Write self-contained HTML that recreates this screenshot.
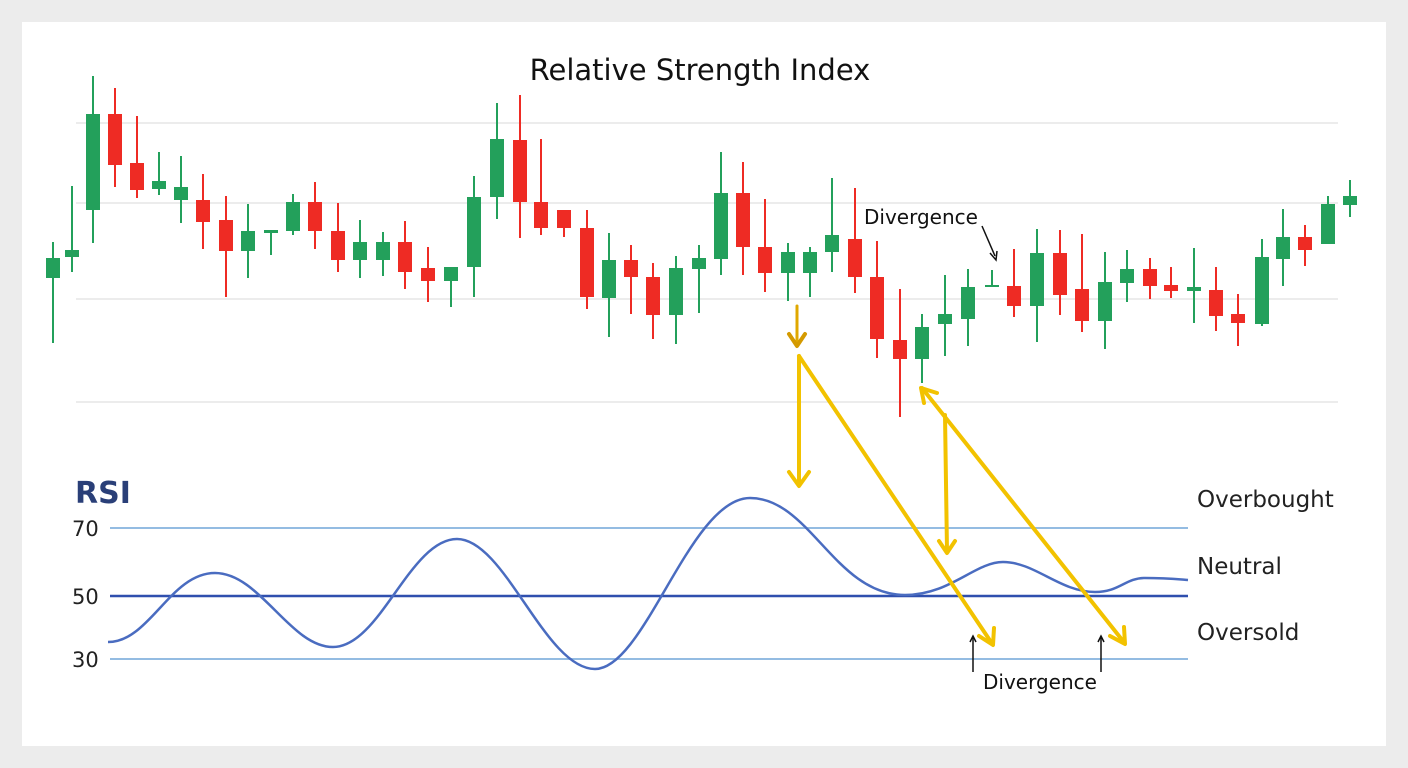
<!DOCTYPE html>
<html><head><meta charset="utf-8"><style>
html,body{margin:0;padding:0;background:#ececec;}
svg{display:block;}
text{font-family:"DejaVu Sans","Liberation Sans",sans-serif;}
</style></head><body>
<svg width="1408" height="768" viewBox="0 0 1408 768" xmlns="http://www.w3.org/2000/svg">
<rect x="0" y="0" width="1408" height="768" fill="#ececec"/>
<rect x="22" y="22" width="1364" height="724" fill="#ffffff"/>
<g stroke="#e6e6e6" stroke-width="1.5">
<line x1="76" y1="123" x2="1338" y2="123"/>
<line x1="76" y1="203" x2="1338" y2="203"/>
<line x1="76" y1="299" x2="1338" y2="299"/>
<line x1="76" y1="402" x2="1338" y2="402"/>
</g>
<text x="700" y="80" font-size="29" text-anchor="middle" fill="#111">Relative Strength Index</text>
<g stroke-width="2">
<g stroke="#23a05b" fill="#23a05b">
<line x1="53" y1="242" x2="53" y2="343"/><rect x="46" y="258" width="14" height="20" stroke="none"/>
<line x1="72" y1="186" x2="72" y2="272"/><rect x="65" y="250" width="14" height="7" stroke="none"/>
<line x1="93" y1="76" x2="93" y2="243"/><rect x="86" y="114" width="14" height="96" stroke="none"/>
<line x1="159" y1="152" x2="159" y2="195"/><rect x="152" y="181" width="14" height="8" stroke="none"/>
<line x1="181" y1="156" x2="181" y2="223"/><rect x="174" y="187" width="14" height="13" stroke="none"/>
<line x1="248" y1="204" x2="248" y2="278"/><rect x="241" y="231" width="14" height="20" stroke="none"/>
<line x1="271" y1="231" x2="271" y2="255"/><rect x="264" y="230" width="14" height="3" stroke="none"/>
<line x1="293" y1="194" x2="293" y2="235"/><rect x="286" y="202" width="14" height="29" stroke="none"/>
<line x1="360" y1="220" x2="360" y2="278"/><rect x="353" y="242" width="14" height="18" stroke="none"/>
<line x1="383" y1="232" x2="383" y2="276"/><rect x="376" y="242" width="14" height="18" stroke="none"/>
<line x1="451" y1="267" x2="451" y2="307"/><rect x="444" y="267" width="14" height="14" stroke="none"/>
<line x1="474" y1="176" x2="474" y2="297"/><rect x="467" y="197" width="14" height="70" stroke="none"/>
<line x1="497" y1="103" x2="497" y2="219"/><rect x="490" y="139" width="14" height="58" stroke="none"/>
<line x1="609" y1="233" x2="609" y2="337"/><rect x="602" y="260" width="14" height="38" stroke="none"/>
<line x1="676" y1="256" x2="676" y2="344"/><rect x="669" y="268" width="14" height="47" stroke="none"/>
<line x1="699" y1="245" x2="699" y2="313"/><rect x="692" y="258" width="14" height="11" stroke="none"/>
<line x1="721" y1="152" x2="721" y2="275"/><rect x="714" y="193" width="14" height="66" stroke="none"/>
<line x1="788" y1="243" x2="788" y2="301"/><rect x="781" y="252" width="14" height="21" stroke="none"/>
<line x1="810" y1="247" x2="810" y2="297"/><rect x="803" y="252" width="14" height="21" stroke="none"/>
<line x1="832" y1="178" x2="832" y2="272"/><rect x="825" y="235" width="14" height="17" stroke="none"/>
<line x1="922" y1="314" x2="922" y2="383"/><rect x="915" y="327" width="14" height="32" stroke="none"/>
<line x1="945" y1="275" x2="945" y2="356"/><rect x="938" y="314" width="14" height="10" stroke="none"/>
<line x1="968" y1="269" x2="968" y2="346"/><rect x="961" y="287" width="14" height="32" stroke="none"/>
<line x1="992" y1="270" x2="992" y2="287"/><rect x="985" y="285" width="14" height="2" stroke="none"/>
<line x1="1037" y1="229" x2="1037" y2="342"/><rect x="1030" y="253" width="14" height="53" stroke="none"/>
<line x1="1105" y1="252" x2="1105" y2="349"/><rect x="1098" y="282" width="14" height="39" stroke="none"/>
<line x1="1127" y1="250" x2="1127" y2="302"/><rect x="1120" y="269" width="14" height="14" stroke="none"/>
<line x1="1194" y1="248" x2="1194" y2="323"/><rect x="1187" y="287" width="14" height="4" stroke="none"/>
<line x1="1262" y1="239" x2="1262" y2="326"/><rect x="1255" y="257" width="14" height="67" stroke="none"/>
<line x1="1283" y1="209" x2="1283" y2="286"/><rect x="1276" y="237" width="14" height="22" stroke="none"/>
<line x1="1328" y1="196" x2="1328" y2="244"/><rect x="1321" y="204" width="14" height="40" stroke="none"/>
<line x1="1350" y1="180" x2="1350" y2="217"/><rect x="1343" y="196" width="14" height="9" stroke="none"/>
</g>
<g stroke="#ee2b24" fill="#ee2b24">
<line x1="115" y1="88" x2="115" y2="187"/><rect x="108" y="114" width="14" height="51" stroke="none"/>
<line x1="137" y1="116" x2="137" y2="198"/><rect x="130" y="163" width="14" height="27" stroke="none"/>
<line x1="203" y1="174" x2="203" y2="249"/><rect x="196" y="200" width="14" height="22" stroke="none"/>
<line x1="226" y1="196" x2="226" y2="297"/><rect x="219" y="220" width="14" height="31" stroke="none"/>
<line x1="315" y1="182" x2="315" y2="249"/><rect x="308" y="202" width="14" height="29" stroke="none"/>
<line x1="338" y1="203" x2="338" y2="272"/><rect x="331" y="231" width="14" height="29" stroke="none"/>
<line x1="405" y1="221" x2="405" y2="289"/><rect x="398" y="242" width="14" height="30" stroke="none"/>
<line x1="428" y1="247" x2="428" y2="302"/><rect x="421" y="268" width="14" height="13" stroke="none"/>
<line x1="520" y1="95" x2="520" y2="238"/><rect x="513" y="140" width="14" height="62" stroke="none"/>
<line x1="541" y1="139" x2="541" y2="235"/><rect x="534" y="202" width="14" height="26" stroke="none"/>
<line x1="564" y1="210" x2="564" y2="237"/><rect x="557" y="210" width="14" height="18" stroke="none"/>
<line x1="587" y1="210" x2="587" y2="309"/><rect x="580" y="228" width="14" height="69" stroke="none"/>
<line x1="631" y1="245" x2="631" y2="314"/><rect x="624" y="260" width="14" height="17" stroke="none"/>
<line x1="653" y1="263" x2="653" y2="339"/><rect x="646" y="277" width="14" height="38" stroke="none"/>
<line x1="743" y1="162" x2="743" y2="275"/><rect x="736" y="193" width="14" height="54" stroke="none"/>
<line x1="765" y1="199" x2="765" y2="292"/><rect x="758" y="247" width="14" height="26" stroke="none"/>
<line x1="855" y1="188" x2="855" y2="293"/><rect x="848" y="239" width="14" height="38" stroke="none"/>
<line x1="877" y1="241" x2="877" y2="358"/><rect x="870" y="277" width="14" height="62" stroke="none"/>
<line x1="900" y1="289" x2="900" y2="417"/><rect x="893" y="340" width="14" height="19" stroke="none"/>
<line x1="1014" y1="249" x2="1014" y2="317"/><rect x="1007" y="286" width="14" height="20" stroke="none"/>
<line x1="1060" y1="230" x2="1060" y2="315"/><rect x="1053" y="253" width="14" height="42" stroke="none"/>
<line x1="1082" y1="234" x2="1082" y2="332"/><rect x="1075" y="289" width="14" height="32" stroke="none"/>
<line x1="1150" y1="258" x2="1150" y2="299"/><rect x="1143" y="269" width="14" height="17" stroke="none"/>
<line x1="1171" y1="267" x2="1171" y2="298"/><rect x="1164" y="285" width="14" height="6" stroke="none"/>
<line x1="1216" y1="267" x2="1216" y2="331"/><rect x="1209" y="290" width="14" height="26" stroke="none"/>
<line x1="1238" y1="294" x2="1238" y2="346"/><rect x="1231" y="314" width="14" height="9" stroke="none"/>
<line x1="1305" y1="225" x2="1305" y2="266"/><rect x="1298" y="237" width="14" height="13" stroke="none"/>
</g>
</g>
<text x="864" y="224" font-size="20" fill="#111">Divergence</text>
<line x1="982" y1="226" x2="995" y2="256" stroke="#111" stroke-width="1.5"/>
<polyline points="990,253 996,260 997,251" fill="none" stroke="#111" stroke-width="1.5"/>

<text x="75" y="503" font-size="30" font-weight="bold" fill="#2a3f78">RSI</text>
<text x="72" y="536" font-size="21" fill="#222">70</text>
<text x="72" y="604" font-size="21" fill="#222">50</text>
<text x="72" y="667" font-size="21" fill="#222">30</text>
<line x1="110" y1="528" x2="1188" y2="528" stroke="#94bce2" stroke-width="2"/>
<line x1="110" y1="596" x2="1188" y2="596" stroke="#2f4fae" stroke-width="2.5"/>
<line x1="110" y1="659" x2="1188" y2="659" stroke="#94bce2" stroke-width="2"/>
<text x="1197" y="507" font-size="23" fill="#222">Overbought</text>
<text x="1197" y="574" font-size="23" fill="#222">Neutral</text>
<text x="1197" y="640" font-size="23" fill="#222">Oversold</text>
<path d="M108,642 C150,642 170,573 215,573 C260,573 290,647 333,647 C380,647 410,539 457,539 C505,539 545,669 595,669 C645,669 690,498 750,498 C810,498 835,595 905,595 C950,595 975,562 1003,562 C1035,562 1060,592 1095,592 C1120,592 1125,578 1145,578 C1165,578 1175,579 1188,580" fill="none" stroke="#4a6cc0" stroke-width="2.5"/>

<g stroke="#f2c200" stroke-width="4" fill="none" stroke-linecap="round" stroke-linejoin="round">
<line x1="797" y1="306" x2="797" y2="344" stroke="#e0a800" stroke-width="3"/>
<polyline points="789,334 797,346 805,334" stroke="#d49a00"/>
<line x1="799" y1="356" x2="799" y2="484"/>
<polyline points="789,472 799,486 809,472"/>
<line x1="799" y1="356" x2="991" y2="642"/>
<polyline points="979,636 993,645 994,628"/>
<line x1="922" y1="388" x2="1123" y2="641"/>
<polyline points="1110,636 1125,644 1124,627"/>
<polyline points="924,403 921,388 937,393"/>
<line x1="945" y1="415" x2="947" y2="551"/>
<polyline points="939,541 947,553 955,541"/>
</g>
<g stroke="#111" stroke-width="1.5" fill="none">
<line x1="973" y1="672" x2="973" y2="637"/><polyline points="970,642 973,636 976,642"/>
<line x1="1101" y1="672" x2="1101" y2="637"/><polyline points="1098,642 1101,636 1104,642"/>
</g>
<text x="983" y="689" font-size="20" fill="#111">Divergence</text>
</svg>
</body></html>
